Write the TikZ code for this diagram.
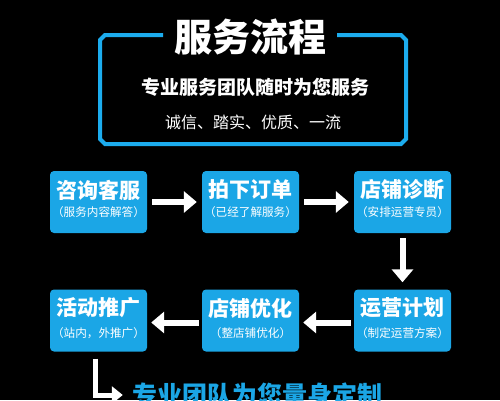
\documentclass[tikz,border=0pt]{standalone}
\usepackage{fontspec}
\newfontfamily\cjk{Noto Sans CJK SC}
\usetikzlibrary{arrows.meta,calc}
\definecolor{cyanbox}{RGB}{27,166,230}
\definecolor{cyanline}{RGB}{28,172,238}
\begin{document}
\begin{tikzpicture}[x=1pt,y=-1pt,
  stepbox/.style={fill=cyanbox,rounded corners=4pt,minimum width=97pt,minimum height=62pt,inner sep=0pt},
  boxtitle/.style={text=white,font=\cjk\bfseries\fontsize{21}{21}\selectfont,inner sep=0pt},
  boxsub/.style={text=white,font=\cjk\fontsize{11.6}{12}\selectfont,inner sep=0pt},
  flow/.style={draw=white,line width=6pt,-{Triangle[width=21pt,length=13pt]}},
]
\useasboundingbox (0,0) rectangle (500,400);
\fill[black] (0,0) rectangle (500,400);
% frame
\draw[cyanline,line width=4pt,line join=miter] (163,35) -- (105,35) -- (100,40) -- (100,139) -- (105,144) -- (401,144) -- (406,139) -- (406,40) -- (401,35) -- (337,35);
\node[text=white,font=\cjk\bfseries\fontsize{38}{38}\selectfont,inner sep=0pt] (title) at (250,37) {服务流程};
\node[text=white,font=\cjk\bfseries\fontsize{19}{19}\selectfont,inner sep=0pt] (sub1) at (255,87) {专业服务团队随时为您服务};
\node[text=white,font=\cjk\fontsize{16}{16}\selectfont,inner sep=0pt] (sub2) at (253,122) {诚信、踏实、优质、一流};
% boxes
\node[stepbox] (b1) at (98.5,202) {};
\node[stepbox] (b2) at (250.5,202) {};
\node[stepbox] (b3) at (402.5,202) {};
\node[stepbox] (b4) at (98.5,320.5) {};
\node[stepbox] (b5) at (250.5,320.5) {};
\node[stepbox] (b6) at (402.5,320.5) {};
\node[boxtitle] (t1) at ([yshift=12pt]b1.center) {咨询客服};
\node[boxsub] (s1) at ([yshift=-10pt]b1.center) {（服务内容解答）};
\node[boxtitle] (t2) at ([yshift=12pt]b2.center) {拍下订单};
\node[boxsub] (s2) at ([yshift=-10pt]b2.center) {（已经了解服务）};
\node[boxtitle] (t3) at ([yshift=12pt]b3.center) {店铺诊断};
\node[boxsub] (s3) at ([yshift=-10pt]b3.center) {（安排运营专员）};
\node[boxtitle] (t4) at ([yshift=12.5pt]b4.center) {活动推广};
\node[boxsub] (s4) at ([yshift=-12.5pt]b4.center) {（站内，外推广）};
\node[boxtitle] (t5) at ([yshift=12.5pt]b5.center) {店铺优化};
\node[boxsub] (s5) at ([yshift=-12.5pt]b5.center) {（整店铺优化）};
\node[boxtitle] (t6) at ([yshift=12.5pt]b6.center) {运营计划};
\node[boxsub] (s6) at ([yshift=-12.5pt]b6.center) {（制定运营方案）};
% arrows
\draw[flow,shorten <=5pt,shorten >=5pt] (b1.east) -- (b2.west);
\draw[flow,shorten <=5pt,shorten >=5pt] (b2.east) -- (b3.west);
\draw[flow,shorten <=5pt,shorten >=7pt] (b3.south) -- (b6.north);
\draw[flow,shorten <=3pt,shorten >=4pt] ([yshift=-2pt]b6.west) -- ([yshift=-2pt]b5.west -| b5.east);
\draw[flow,shorten <=3pt,shorten >=4pt] ([yshift=-2pt]b5.west) -- ([yshift=-2pt]b4.west -| b4.east);
% bottom
\node[text=cyanbox,font=\cjk\bfseries\fontsize{25}{25}\selectfont,inner sep=0pt] (motto) at (257,395) {专业团队为您量身定制};
\coordinate (lstart) at ([xshift=-3.5pt,yshift=-7pt]b4.south);
\draw[draw=white,line width=5pt,-{Triangle[width=17pt,length=11pt]},shorten >=9pt] (lstart) |- (motto.west);
\end{tikzpicture}
\end{document}
